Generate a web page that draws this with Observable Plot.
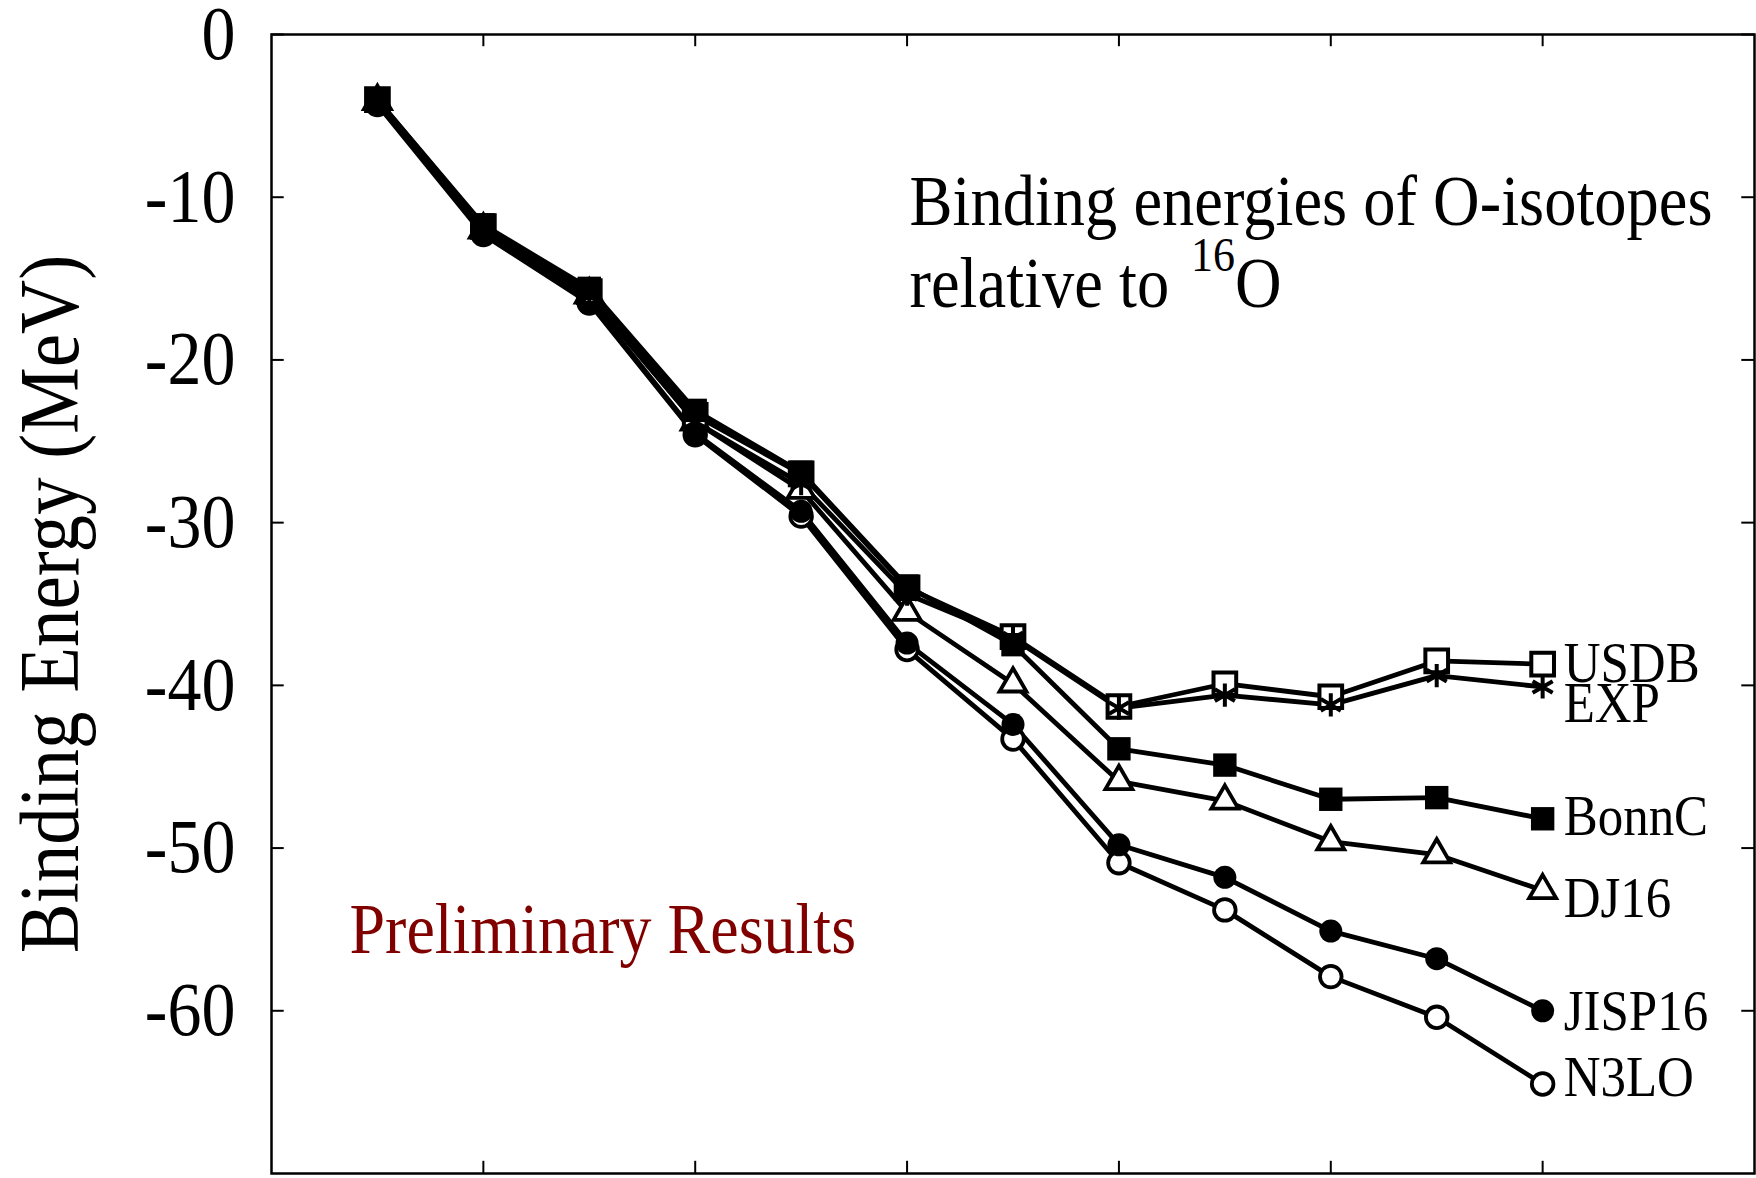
<!DOCTYPE html>
<html>
<head>
<meta charset="utf-8">
<script src="https://cdn.jsdelivr.net/npm/d3@7"></script>
<script src="https://cdn.jsdelivr.net/npm/@observablehq/plot@0.6"></script>
<style>
  html, body { margin: 0; padding: 0; background: #fff; }
  #chart svg { display: block; }
</style>
</head>
<body>
<div id="chart"></div>
<script>
// ---- Data ----
const isotopes = [17, 18, 19, 20, 21, 22, 23, 24, 25, 26, 27, 28];
const usdb   = [-4.0, -11.8, -15.8, -23.4, -27.0, -34.0, -37.0, -41.3, -39.9, -40.7, -38.5, -38.7];
const expt   = [-4.1, -12.2, -16.1, -23.8, -27.6, -34.4, -37.1, -41.4, -40.6, -41.2, -39.4, -40.1];
const bonnC  = [-4.0, -11.7, -15.6, -23.1, -26.9, -33.9, -37.5, -43.9, -44.9, -47.0, -46.9, -48.2];
const dj16   = [-4.1, -12.0, -16.0, -23.8, -28.0, -35.5, -39.9, -45.9, -47.1, -49.6, -50.4, -52.6];
const jisp16 = [-4.2, -12.2, -16.4, -24.5, -29.3, -37.4, -42.4, -49.8, -51.8, -55.1, -56.8, -60.0];
const n3lo   = [-4.3, -12.3, -16.5, -24.6, -29.6, -37.8, -43.3, -50.9, -53.8, -57.9, -60.4, -64.5];
const seriesNames = ["USDB", "EXP", "BonnC", "DJ16", "JISP16", "N3LO"];
const xTicks = [18, 20, 22, 24, 26, 28];
const yTicks = [0, -10, -20, -30, -40, -50, -60];
const yTickLabels = ["0", "-10", "-20", "-30", "-40", "-50", "-60"];
const yAxisLabel = "Binding Energy (MeV)";
const titleLine1 = "Binding energies of O-isotopes";
const titleLine2 = "relative to 16O";
const watermark = "Preliminary Results";

// ---- Build table ----
const valuesByName = {USDB: usdb, EXP: expt, BonnC: bonnC, DJ16: dj16, JISP16: jisp16, N3LO: n3lo};
const rows = [];
for (const name of seriesNames) {
  valuesByName[name].forEach((v, i) => rows.push({series: name, A: isotopes[i], E: v}));
}
const ofSeries = (n) => rows.filter(d => d.series === n);
const lastOf = (n) => ofSeries(n)[ofSeries(n).length - 1];

// marker styles
const style = {
  USDB:   {symbol: "square",   fill: "white", stroke: "black", r: 12.8, sw: 4},
  EXP:    {symbol: "asterisk", fill: "none",  stroke: "black", r: 11,   sw: 4},
  BonnC:  {symbol: "square",   fill: "black", stroke: "none",  r: 13.2, sw: 0},
  DJ16:   {symbol: "triangle", fill: "white", stroke: "black", r: 10,   sw: 3.8},
  JISP16: {symbol: "circle",   fill: "black", stroke: "none",  r: 11.5, sw: 0},
  N3LO:   {symbol: "circle",   fill: "white", stroke: "black", r: 10.8, sw: 3.8}
};
const labelDy = {USDB: 0, EXP: 17, BonnC: -2, DJ16: 8, JISP16: 1, N3LO: -6};
const drawOrder = ["N3LO", "JISP16", "DJ16", "USDB", "EXP", "BonnC"];

const font = "'Liberation Serif', 'Times New Roman', serif";

const marks = [];
for (const n of drawOrder) {
  marks.push(Plot.line(ofSeries(n), {x: "A", y: "E", stroke: "black", strokeWidth: 4.8}));
}
for (const n of drawOrder) {
  const s = style[n];
  marks.push(Plot.dot(ofSeries(n), {x: "A", y: "E", symbol: () => s.symbol, r: s.r, fill: s.fill, stroke: s.stroke, strokeWidth: s.sw}));
}
for (const n of seriesNames) {
  marks.push(Plot.text([lastOf(n)], {
    x: "A", y: "E", text: "series", textAnchor: "start", dx: 21, dy: labelDy[n],
    fontSize: 51, fontFamily: font, fill: "black", lineAnchor: "middle"
  }));
}

const svg = Plot.plot({
  width: 1756,
  height: 1178,
  marginLeft: 271,
  marginRight: 2,
  marginTop: 34,
  marginBottom: 5,
  style: {background: "white", color: "black"},
  x: {domain: [16, 30], axis: null},
  y: {domain: [-70, 0], axis: null},
  marks: [
    Plot.frame({stroke: "black", strokeWidth: 2.5}),
    Plot.ruleX(xTicks, {x: d => d, y1: 0, y2: -0.75, stroke: "black", strokeWidth: 2}),
    Plot.ruleX(xTicks, {x: d => d, y1: -70, y2: -69.25, stroke: "black", strokeWidth: 2}),
    Plot.ruleY(yTicks, {y: d => d, x1: 16, x2: 16.12, stroke: "black", strokeWidth: 2}),
    Plot.ruleY(yTicks, {y: d => d, x1: 29.88, x2: 30, stroke: "black", strokeWidth: 2}),
    Plot.text(yTicks, {x: 16, y: d => d, text: (d, i) => yTickLabels[i], textAnchor: "end", dx: -36,
      lineAnchor: "middle", fontSize: 68, fontFamily: font, fill: "black"}),
    Plot.text([yAxisLabel], {frameAnchor: "left", dx: -220, rotate: -90, fontSize: 75,
      fontFamily: font, fill: "black", textAnchor: "middle", lineAnchor: "middle"}),
    Plot.text([titleLine1], {frameAnchor: "top-left", dx: 638, dy: 190, lineAnchor: "bottom",
      textAnchor: "start", fontSize: 64.5, fontFamily: font, fill: "black"}),
    Plot.text([titleLine2], {frameAnchor: "top-left", dx: 638, dy: 272, lineAnchor: "bottom",
      textAnchor: "start", fontSize: 64.5, fontFamily: font, fill: "black"}),
    Plot.text([watermark], {frameAnchor: "top-left", dx: 78, dy: 918, lineAnchor: "bottom",
      textAnchor: "start", fontSize: 64, fontFamily: font, fill: "#800000"}),
    ...marks
  ]
});

// superscript on "16O"; slightly taller glyphs like the reference
d3.select(svg).selectAll("text").each(function () {
  const sel = d3.select(this);
  if (this.textContent === titleLine2) {
    sel.text(null);
    sel.append("tspan").text("relative to");
    sel.append("tspan").attr("dx", 22).attr("dy", -32).attr("font-size", 44).text("16");
    sel.append("tspan").attr("dy", 32).text("O");
  }
  const tr = this.getAttribute("transform");
  if (tr) sel.attr("transform", tr + " scale(1,1.12)");
});

document.getElementById("chart").appendChild(svg);
</script>
</body>
</html>
